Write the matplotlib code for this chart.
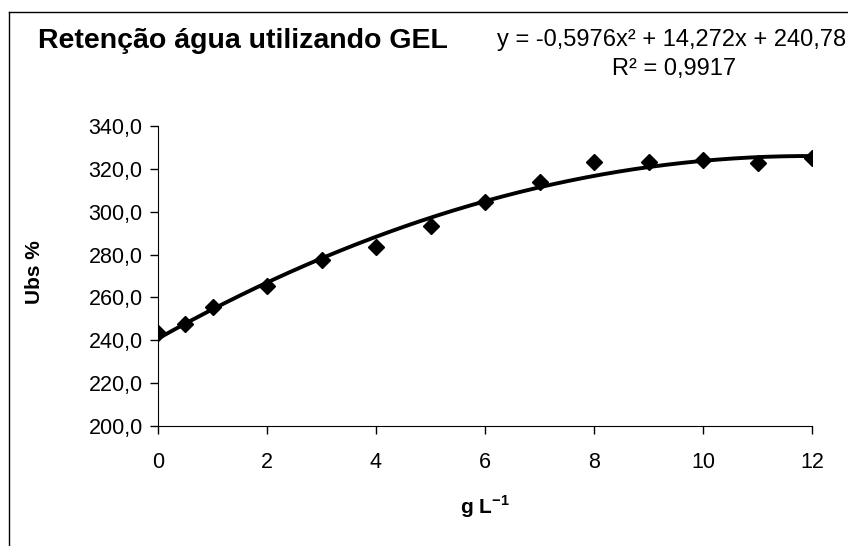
import numpy as np
import matplotlib
matplotlib.use("Agg")
import matplotlib.pyplot as plt
from matplotlib.lines import Line2D
from matplotlib.ticker import FuncFormatter

plt.rcParams["font.family"] = ["Liberation Sans", "DejaVu Sans"]
plt.rcParams["mathtext.fontset"] = "custom"
plt.rcParams["mathtext.rm"] = "Liberation Sans"
plt.rcParams["mathtext.bf"] = "Liberation Sans:bold"

# gel dose (g/L) and water retention (Ubs %)
dose = [0, 0.5, 1, 2, 3, 4, 5, 6, 7, 8, 9, 10, 11, 12]
ubs = [243.4, 247.7, 255.5, 265.5, 277.5, 283.7, 293.5, 304.7, 314.0,
       323.1, 323.1, 324.1, 322.6, 324.9]

# quadratic trend: a*x^2 + b*x + c
trend_coef = [-0.5976, 14.272, 240.78]
r2 = 0.9917


def comma(s):
    return s.replace(".", ",")


fig = plt.figure(figsize=(8.48, 5.46), dpi=100)
ax = fig.add_axes([158 / 848, 1 - 426 / 546, (812 - 158) / 848, 300 / 546])

xs = np.linspace(min(dose), max(dose), 200)
ax.plot(xs, np.polyval(trend_coef, xs), color="black", lw=2.8, zorder=2)
ax.plot(dose, ubs, linestyle="none", marker="D", markersize=8.5,
        color="black", zorder=3)

ax.set_xlim(0, 12)
ax.set_ylim(200, 340)
ax.set_xticks(range(0, 13, 2))
ax.set_yticks(range(200, 341, 20))
ax.yaxis.set_major_formatter(FuncFormatter(lambda v, p: comma(f"{v:.1f}")))
ax.tick_params(direction="out", length=6, width=1, labelsize=15.5)
ax.tick_params(axis="y", pad=5)
ax.tick_params(axis="x", pad=13)
for side in ("top", "right"):
    ax.spines[side].set_visible(False)

fig.text(485 / 848, 1 - 507 / 546, r"g L$^{\mathbf{-1}}$", fontsize=15,
         fontweight="bold", ha="center", va="center")
fig.text(34 / 848, 1 - 272 / 546, "Ubs %", fontsize=15, fontweight="bold",
         rotation=90, ha="center", va="center")

fig.text(38 / 848, 1 - 41 / 546, "Retenção água utilizando GEL",
         fontsize=20.5, fontweight="bold", ha="left", va="center")
eq = comma(f"y = {trend_coef[0]:.4f}x² + {trend_coef[1]:.3f}x + {trend_coef[2]:.2f}")
fig.text(846 / 848, 1 - 40 / 546, eq, fontsize=17, ha="right", va="center")
fig.text(674 / 848, 1 - 69 / 546, comma(f"R² = {r2:.4f}"),
         fontsize=17, ha="center", va="center")

# chart frame
fig.add_artist(Line2D([9 / 848, 9 / 848], [0, 1 - 12 / 546],
                      transform=fig.transFigure, color="black", lw=1))
fig.add_artist(Line2D([9 / 848, 1], [1 - 12 / 546, 1 - 12 / 546],
                      transform=fig.transFigure, color="black", lw=1))

fig.savefig("out.png", dpi=100)
